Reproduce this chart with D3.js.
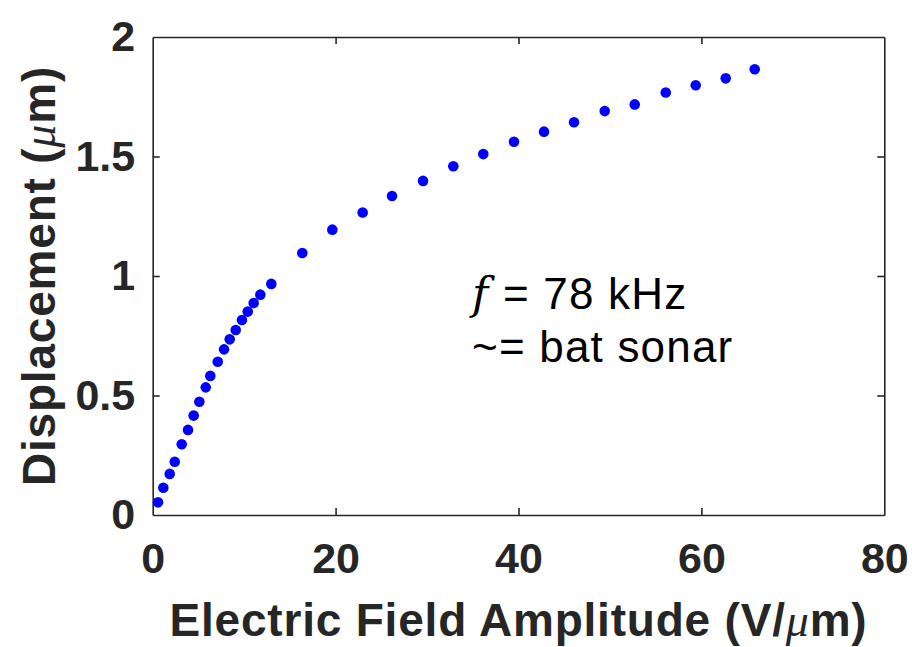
<!DOCTYPE html>
<html>
<head>
<meta charset="utf-8">
<script src="https://cdn.jsdelivr.net/npm/d3@7/dist/d3.min.js"></script>
<style>
  html, body { margin: 0; padding: 0; background: #fff; }
  svg text { font-family: "Liberation Sans", Arial, sans-serif; }
</style>
</head>
<body>
<svg id="chart" width="912" height="647"></svg>
<script>
// Electric field amplitude (V/µm)
const fieldAmplitude = [
  0.58, 1.16, 1.86, 2.41, 3.17, 3.86, 4.48, 5.10, 5.80, 6.30,
  7.11, 7.80, 8.42, 9.08, 9.76, 10.39, 11.04, 11.77, 12.97,
  16.36, 19.64, 22.96, 26.17, 29.56, 32.87, 36.15, 39.51, 42.79,
  46.07, 49.43, 52.71, 56.10, 59.38, 62.66, 65.83
];
// Displacement (µm)
const displacement = [
  0.053, 0.114, 0.172, 0.223, 0.296, 0.356, 0.416, 0.474, 0.534, 0.582,
  0.641, 0.693, 0.735, 0.774, 0.816, 0.851, 0.887, 0.922, 0.967,
  1.096, 1.194, 1.266, 1.335, 1.398, 1.459, 1.510, 1.562, 1.604,
  1.643, 1.690, 1.718, 1.768, 1.798, 1.827, 1.865
];
const xTicks = [0, 20, 40, 60, 80];
const yTicks = [0, 0.5, 1, 1.5, 2];

const svg = d3.select("#chart");
const plotLeft = 152.7, plotRight = 884.3, plotTop = 37, plotBottom = 515;
const ink = "#262626";
const tickSize = "43px";
const titleSize = "46px";

const x = d3.scaleLinear().domain([0, 80]).range([plotLeft, plotRight]);
const y = d3.scaleLinear().domain([0, 2]).range([plotBottom, plotTop]);

const tickLen = 7;

// Box axes with inward ticks on all four sides
function styleAxis(g) {
  g.select(".domain").attr("stroke", ink).attr("stroke-width", 1.6);
  g.selectAll(".tick line").attr("stroke", ink).attr("stroke-width", 1.6);
  g.selectAll(".tick text")
    .attr("fill", ink)
    .style("font-size", tickSize)
    .style("font-weight", "bold");
}

svg.append("g")
  .attr("transform", `translate(0,${plotBottom})`)
  .call(d3.axisBottom(x).tickValues(xTicks).tickFormat(d3.format("d"))
    .tickSizeInner(-tickLen).tickSizeOuter(0).tickPadding(27))
  .call(styleAxis);

svg.append("g")
  .attr("transform", `translate(0,${plotTop})`)
  .call(d3.axisTop(x).tickValues(xTicks).tickFormat("")
    .tickSizeInner(-tickLen).tickSizeOuter(0))
  .call(styleAxis);

svg.append("g")
  .attr("transform", `translate(${plotLeft},0)`)
  .call(d3.axisLeft(y).tickValues(yTicks).tickFormat(d => String(d))
    .tickSizeInner(-tickLen).tickSizeOuter(0).tickPadding(17.5))
  .call(styleAxis);

svg.append("g")
  .attr("transform", `translate(${plotRight},0)`)
  .call(d3.axisRight(y).tickValues(yTicks).tickFormat("")
    .tickSizeInner(-tickLen).tickSizeOuter(0))
  .call(styleAxis);

// Hide the end ticks that would overlap the box corners
svg.selectAll(".tick").filter(d => d === 0 || d === 80 || d === 2)
  .select("line").attr("stroke-opacity", 0);

// Data points
svg.append("g")
  .selectAll("circle")
  .data(fieldAmplitude.map((v, i) => [v, displacement[i]]))
  .join("circle")
  .attr("cx", d => x(d[0]))
  .attr("cy", d => y(d[1]))
  .attr("r", 5.3)
  .attr("fill", "#0000ff");

// Axis titles
const xTitle = svg.append("text")
  .attr("x", (plotLeft + plotRight) / 2)
  .attr("y", 636)
  .attr("text-anchor", "middle")
  .attr("fill", ink)
  .style("font-size", titleSize)
  .style("letter-spacing", "0.8px")
  .style("font-weight", "bold");
xTitle.append("tspan").text("Electric Field Amplitude (V/");
xTitle.append("tspan").text("\u03BC")
  .style("font-family", "'Liberation Serif', serif")
  .style("font-style", "italic").style("font-weight", "normal");
xTitle.append("tspan").text("m)");

const yTitle = svg.append("text")
  .attr("transform", `translate(55,${(plotTop + plotBottom) / 2}) rotate(-90)`)
  .attr("text-anchor", "middle")
  .attr("fill", ink)
  .style("font-size", titleSize)
  .style("letter-spacing", "0.8px")
  .style("font-weight", "bold");
yTitle.append("tspan").text("Displacement (");
yTitle.append("tspan").text("\u03BC")
  .style("font-family", "'Liberation Serif', serif")
  .style("font-style", "italic").style("font-weight", "normal");
yTitle.append("tspan").text("m)");

// Frequency annotation
const note1 = svg.append("text")
  .attr("x", 472).attr("y", 309)
  .attr("fill", "#000")
  .style("font-size", "44px")
  .style("letter-spacing", "1.2px");
note1.append("tspan").text("f")
  .style("font-family", "'DejaVu Serif', 'Liberation Serif', serif")
  .style("font-style", "italic");
note1.append("tspan").text("  = 78 kHz");

svg.append("text")
  .attr("x", 472).attr("y", 362)
  .attr("fill", "#000")
  .style("font-size", "44px")
  .style("letter-spacing", "1.2px")
  .text("~= bat sonar");
</script>
</body>
</html>
